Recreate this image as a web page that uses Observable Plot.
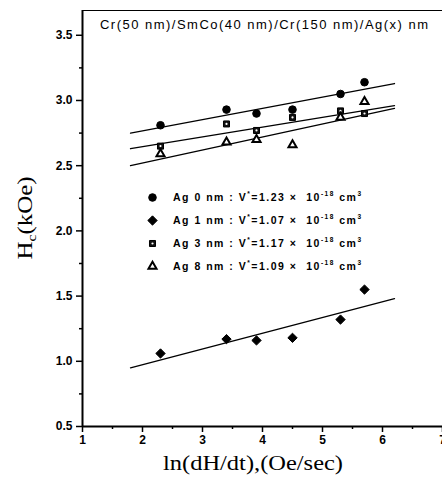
<!DOCTYPE html>
<html><head><meta charset="utf-8">
<script src="https://cdn.jsdelivr.net/npm/d3@7"></script>
<script src="https://cdn.jsdelivr.net/npm/@observablehq/plot@0.6"></script>
<style>body{margin:0;background:#fff}
svg g[aria-label$="tick label"] text{font-weight:bold;font-size:12px}</style>
</head><body><div id="chart"></div>
<script>
// ---- data ----
const lnRate = [2.3, 3.4, 3.9, 4.5, 5.3, 5.7];
const hcAg0 = [2.81, 2.93, 2.90, 2.93, 3.05, 3.14];
const hcAg1 = [1.06, 1.17, 1.16, 1.18, 1.32, 1.55];
const hcAg3 = [2.65, 2.82, 2.77, 2.87, 2.92, 2.90];
const hcAg8 = [2.59, 2.68, 2.70, 2.66, 2.87, 2.99];
const fitX = [1.8, 6.2];
const fitAg0 = [2.75, 3.13];
const fitAg1 = [0.95, 1.48];
const fitAg3 = [2.63, 2.96];
const fitAg8 = [2.50, 2.94];
const seriesNames = ["Ag 0 nm", "Ag 1 nm", "Ag 3 nm", "Ag 8 nm"];
const vStar = ["1.23", "1.07", "1.17", "1.09"];
const xTicks = [1, 2, 3, 4, 5, 6, 7];
const xMinor = [1.5, 2.5, 3.5, 4.5, 5.5, 6.5];
const yTicks = [0.5, 1.0, 1.5, 2.0, 2.5, 3.0, 3.5];
const yMinor = [0.75, 1.25, 1.75, 2.25, 2.75, 3.25];
const titleText = "Cr(50 nm)/SmCo(40 nm)/Cr(150 nm)/Ag(x) nm";

const hcSeries = [hcAg0, hcAg1, hcAg3, hcAg8];
const fitSeries = [fitAg0, fitAg1, fitAg3, fitAg8];
const styles = [
  {symbol: "circle", fill: "black", stroke: "black", r: 3.8, strokeWidth: 1},
  {symbol: "diamond2", fill: "black", stroke: "black", r: 4.2, strokeWidth: 1},
  {symbol: "square", fill: "#111", stroke: "black", r: 3.4, strokeWidth: 1},
  {symbol: "triangle", fill: "white", stroke: "black", r: 3.0, strokeWidth: 2}
];

const points = seriesNames.flatMap((s, i) => lnRate.map((x, j) => ({series: s, x, y: hcSeries[i][j]})));
const fits = seriesNames.flatMap((s, i) => fitX.map((x, j) => ({series: s, x, y: fitSeries[i][j]})));

const yTop = 3.69;
const marks = [
  Plot.ruleY([yTop], {stroke: "black", strokeWidth: 1.2}),
  Plot.axisX({ticks: xTicks, tickSize: 6, tickPadding: 3, strokeWidth: 1.5, fontSize: 12, fontWeight: "bold", label: null, tickFormat: d3.format("d")}),
  Plot.axisX({ticks: xMinor, tickSize: 3, strokeWidth: 1.5, tickFormat: () => "", label: null}),
  Plot.axisY({ticks: yTicks, tickSize: 6, tickPadding: 4, strokeWidth: 1.5, fontSize: 12, fontWeight: "bold", label: null, tickFormat: d3.format(".1f")}),
  Plot.axisY({ticks: yMinor, tickSize: 3, strokeWidth: 1.5, tickFormat: () => "", label: null}),
  Plot.ruleX([1], {stroke: "black", strokeWidth: 2}),
  Plot.ruleY([0.5], {stroke: "black", strokeWidth: 2}),
  Plot.line(fits, {x: "x", y: "y", z: "series", stroke: "black", strokeWidth: 1.3})
];
seriesNames.forEach((s, i) => {
  const st = styles[i];
  marks.push(Plot.dot(points.filter(d => d.series === s), {x: "x", y: "y", symbol: st.symbol, r: st.r, fill: st.fill, stroke: st.stroke, strokeWidth: st.strokeWidth}));
  if (st.symbol === "square") {
    marks.push(Plot.dot(points.filter(d => d.series === s), {x: "x", y: "y", r: 1.1, fill: "white"}));
  }
  // legend marker
  marks.push(Plot.dot([s], {frameAnchor: "top-left", dx: 70, dy: 187 + 23 * i, symbol: st.symbol, r: st.r, fill: st.fill, stroke: st.stroke, strokeWidth: st.strokeWidth}));
  if (st.symbol === "square") {
    marks.push(Plot.dot([s], {frameAnchor: "top-left", dx: 70, dy: 187 + 23 * i, r: 1.1, fill: "white"}));
  }
});

const chart = Plot.plot({
  width: 442, height: 487,
  marginLeft: 82, marginRight: 0, marginTop: 10, marginBottom: 61,
  x: {domain: [1, 7]},
  y: {domain: [0.5, yTop]},
  style: {fontFamily: "'Liberation Sans', Arial, sans-serif", color: "black", background: "white", overflow: "visible"},
  marks
});
document.getElementById("chart").appendChild(chart);

const svg = d3.select(chart);
// title
svg.append("text").attr("x", 100).attr("y", 29).attr("text-anchor", "start").attr("font-size", 13).attr("font-family", "'Liberation Sans', Arial, sans-serif")
  .attr("textLength", 328).attr("lengthAdjust", "spacing").attr("fill", "black").text(titleText);
// legend texts
seriesNames.forEach((s, i) => {
  const t = svg.append("text").attr("x", 173).attr("y", 197 + 23 * i + 4).attr("text-anchor", "start").attr("font-size", 10.5).attr("font-weight", "bold")
    .attr("font-family", "'Liberation Sans', Arial, sans-serif").attr("fill", "black")
    .attr("textLength", 188).attr("lengthAdjust", "spacing");
  t.append("tspan").text(`${s} : V`);
  t.append("tspan").attr("dy", -5).attr("font-size", 6.5).text("*");
  t.append("tspan").attr("dy", 5).text(`=${vStar[i]} \u00d7  10`);
  t.append("tspan").attr("dy", -5).attr("font-size", 6.5).text("-18");
  t.append("tspan").attr("dy", 5).text(" cm");
  t.append("tspan").attr("dy", -5).attr("font-size", 6.5).text("3");
});
// axis labels
svg.append("text").attr("x", 253).attr("y", 470).attr("text-anchor", "middle").attr("font-size", 21)
  .attr("font-family", "'Liberation Serif', 'Times New Roman', serif").attr("fill", "black")
  .attr("textLength", 180).attr("lengthAdjust", "spacingAndGlyphs").text("ln(dH/dt),(Oe/sec)");
const yl = svg.append("text").attr("transform", "translate(32,218) rotate(-90)").attr("text-anchor", "middle").attr("font-size", 21)
  .attr("font-family", "'Liberation Serif', 'Times New Roman', serif").attr("fill", "black")
  .attr("textLength", 83).attr("lengthAdjust", "spacingAndGlyphs");
yl.append("tspan").text("H");
yl.append("tspan").attr("dy", 4).attr("font-size", 13).text("c");
yl.append("tspan").attr("dy", -4).text("(kOe)");
</script>
</body></html>
